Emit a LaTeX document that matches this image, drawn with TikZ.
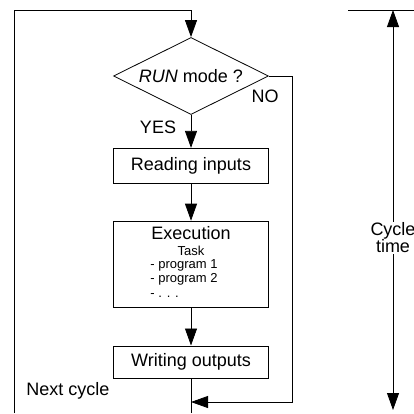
\documentclass[tikz,border=0pt]{standalone}
\usepackage{fontspec}
\setmainfont{Liberation Sans}
\usetikzlibrary{positioning,shapes.geometric,arrows.meta}

\newcommand{\smalltxt}{\fontsize{13}{14.5}\selectfont}

\tikzset{
    box/.style={draw, minimum width=155pt, inner sep=2pt},
    decision/.style={draw, diamond, aspect=2, minimum width=155pt, minimum height=77pt, inner sep=0pt},
    flow/.style={-{Triangle[length=17pt,width=12pt]}},
    twoway/.style={{Triangle[length=17pt,width=12pt]}-{Triangle[length=17pt,width=12pt]}},
}

\begin{document}
\begin{tikzpicture}[x=1pt, y=-1pt, line width=0.8pt, font=\fontsize{18}{20}\selectfont]
    \useasboundingbox (0,0) rectangle (414,413);

    \node[decision] (run) at (191,76) {\textit{RUN} mode ?};
    \node[box, minimum height=35pt, below=33pt of run] (read) {Reading inputs};
    \node[box, minimum height=86pt, below=37pt of read, align=center] (exec) {Execution\\[-4pt]
        \smalltxt Task\\[1pt]
        \smalltxt\begin{tabular}{@{}l@{\hspace{14pt}}}- program 1\\ - program 2\\ - . . .\end{tabular}};
    \node[box, minimum height=32pt, below=38pt of exec] (write) {Writing outputs};

    \node (yes) at (158,127) {YES};
    \node (no) at (265,96) {NO};
    \node (next) at (68,391) {Next cycle};

    \coordinate (bottom) at (write.south |- 0,413);
    \coordinate (back) at (14,413);
    \coordinate (top) at (14,10);
    \coordinate (turn) at (292,76);
    \coordinate (merge) at (write.south |- 0,402);

    \draw[flow] (back) -- (top) -| (run.north);
    \draw[flow] (run) -- (read);
    \draw[flow] (read) -- (exec);
    \draw[flow] (exec) -- (write);
    \draw (write) -- (bottom);
    \draw[flow] (run.east) -- (turn) |- (merge);

    \coordinate (tleft) at (348,10);
    \coordinate (tright) at (414,10);
    \coordinate (ttop) at (393,10);
    \coordinate (tbot) at (393,410);
    \draw (tleft) -- (tright);
    \draw[twoway] (ttop) -- node[pos=0.57, fill=white, inner sep=1pt, align=center, font=\fontsize{18}{17}\selectfont] (cycle) {Cycle\\time} (tbot);
\end{tikzpicture}
\end{document}
